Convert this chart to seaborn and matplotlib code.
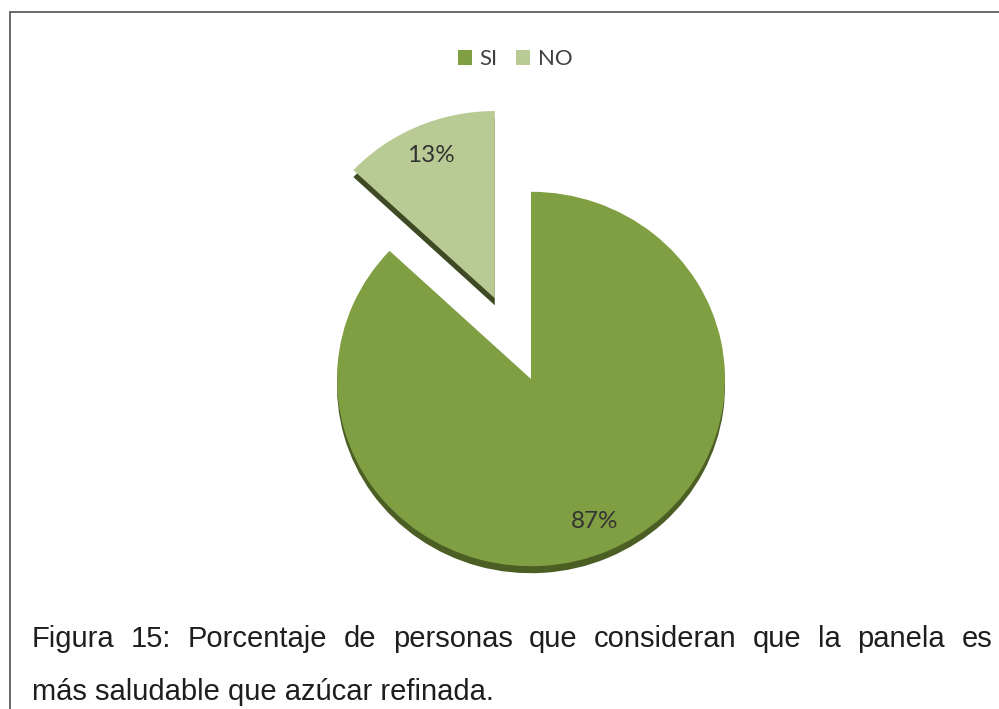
import matplotlib
matplotlib.use("Agg")
import matplotlib.pyplot as plt
import seaborn as sns
from matplotlib.patches import Patch
from matplotlib.lines import Line2D

# ---- data ----
categories = ["SI", "NO"]
values = [87, 13]
explode_frac = [0, 0.47]
caption_line1 = "Figura 15: Porcentaje de personas que consideran que la panela es"
caption_line2 = "más saludable que azúcar refinada."

sns.set_theme(style="white")
plt.rcParams['font.family'] = ['Lato', 'DejaVu Sans']

W, H, DPI = 999, 709, 100
fig = plt.figure(figsize=(W / DPI, H / DPI), dpi=DPI)
fig.patch.set_facecolor("white")
ax = fig.add_axes([0, 0, 1, 1])

sy = 0.965           # slight vertical squash (3-D tilt look)
cx, cy_px = 531, 379
cy = (H - cy_px) / sy
R = 194
colors = ["#809E42", "#B9CB94"]
shadow_colors = ["#4B5E24", "#3E4A23"]
explode = [e * R for e in explode_frac]
depth = 7 / sy

# side wall / shadow
ax.pie(values, colors=shadow_colors, startangle=90, counterclock=False,
       explode=explode, radius=R, center=(cx, cy - depth),
       wedgeprops=dict(linewidth=0), frame=True)
# top faces
wedges, texts, autotexts = ax.pie(
    values, colors=colors, startangle=90, counterclock=False,
    explode=explode, radius=R, center=(cx, cy),
    autopct='%1.0f%%', pctdistance=0.83,
    textprops=dict(fontsize=17.5, color="#333333", family=['Lato', 'DejaVu Sans']),
    wedgeprops=dict(linewidth=0), frame=True)

ax.set_aspect('auto')
ax.set_xlim(0, W)
ax.set_ylim(0, H / sy)
ax.axis('off')

# legend
handles = [Patch(facecolor=c, edgecolor='none') for c in colors]
fig.legend(handles, categories, loc='center', bbox_to_anchor=(515 / W, 1 - 59 / H),
           ncol=2, frameon=False, fontsize=16, handlelength=0.65, handleheight=0.65,
           handletextpad=0.35, columnspacing=0.8, labelcolor="#404040")

# border lines (top and left)
fig.add_artist(Line2D([9.5 / W, 1.0], [1 - 12 / H, 1 - 12 / H], transform=fig.transFigure,
                      color="#5f5f5f", linewidth=1.3))
fig.add_artist(Line2D([9.5 / W, 9.5 / W], [0, 1 - 12 / H], transform=fig.transFigure,
                      color="#5f5f5f", linewidth=1.3))

# caption, first line justified
cap_font = dict(family=['Liberation Sans', 'DejaVu Sans'], fontsize=21, color="#1e1e1e")
renderer = fig.canvas.get_renderer()
words = caption_line1.split(" ")
x_left, x_right = 32, 992
y1 = 1 - 647 / H
objs = []
for w in words:
    t = fig.text(0, y1, w, ha='left', va='baseline', **cap_font)
    objs.append(t)
widths = [t.get_window_extent(renderer).width for t in objs]
gap = (x_right - x_left - sum(widths)) / (len(words) - 1)
x = x_left
for t, wd in zip(objs, widths):
    t.set_x(x / W)
    x += wd + gap
fig.text(x_left / W, 1 - 700 / H, caption_line2, ha='left', va='baseline', **cap_font)

fig.savefig("out.png", dpi=DPI, facecolor="white")
